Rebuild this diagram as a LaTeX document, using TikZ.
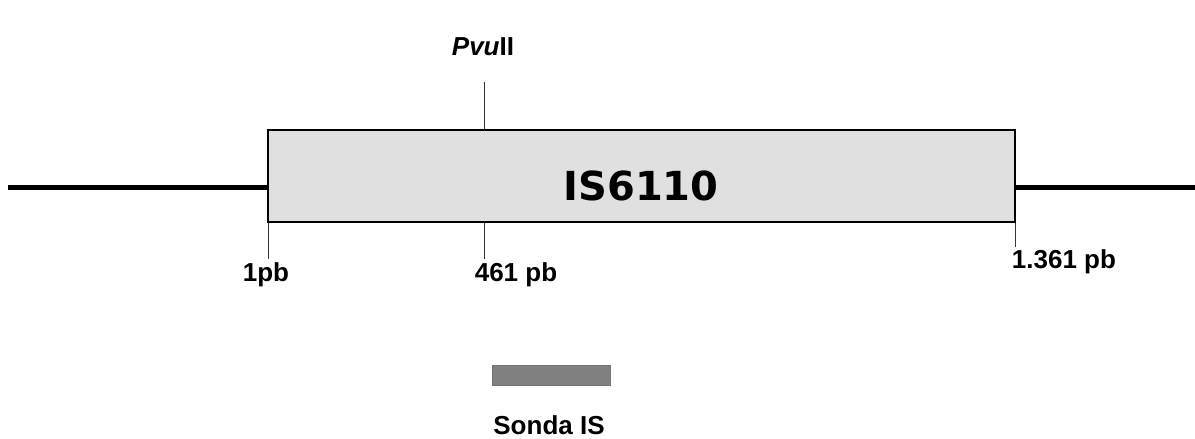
\documentclass[tikz,border=0pt]{standalone}
\usepackage{fontspec}
\setmainfont{Liberation Sans}
\newfontfamily\verd{DejaVu Sans}
\begin{document}
\begin{tikzpicture}[x=1pt,y=-1pt,
  lbl/.style={font=\fontsize{26}{30}\selectfont\bfseries, inner sep=0pt},
  tick/.style={line width=0.9pt, draw=black!80},
  dna/.style={line width=5pt, draw=black},
  isbox/.style={draw=black, line width=1.2pt, fill=black!12, inner sep=0pt, minimum width=747pt, minimum height=92pt}]
\useasboundingbox (0,0) rectangle (1195,439);
\node[isbox] (box) at (641.5,176) {};
\node[font=\verd\fontsize{40}{44}\selectfont\bfseries, inner sep=0pt] (is) at (641,186) {IS6110};
\coordinate (lend) at (8,187);
\coordinate (rend) at (1195,187);
\draw[dna] (lend) -- (box.west |- lend);
\draw[dna] (box.east |- rend) -- (rend);
\coordinate (pvtop) at (484,82);
\draw[tick] (pvtop) -- (pvtop |- box.north);
\coordinate (t1) at (268,259);
\coordinate (t2) at (484,259);
\coordinate (t3) at (1015,247);
\draw[tick] (t1 |- box.south) -- (t1);
\draw[tick] (t2 |- box.south) -- (t2);
\draw[tick] (t3 |- box.south) -- (t3);
\node[lbl] (pvu) at (483,47) {\textit{Pvu}II};
\node[lbl] (l1) at (266,275) {1pb};
\node[lbl] (l2) at (516,275) {461 pb};
\node[lbl] (l3) at (1064,262) {1.361 pb};
\node[draw=black!55, fill=black!50, minimum width=118pt, minimum height=20pt, inner sep=0pt] (probe) at (551,375) {};
\node[lbl] (sonda) at (549,425) {Sonda IS};
\end{tikzpicture}
\end{document}
